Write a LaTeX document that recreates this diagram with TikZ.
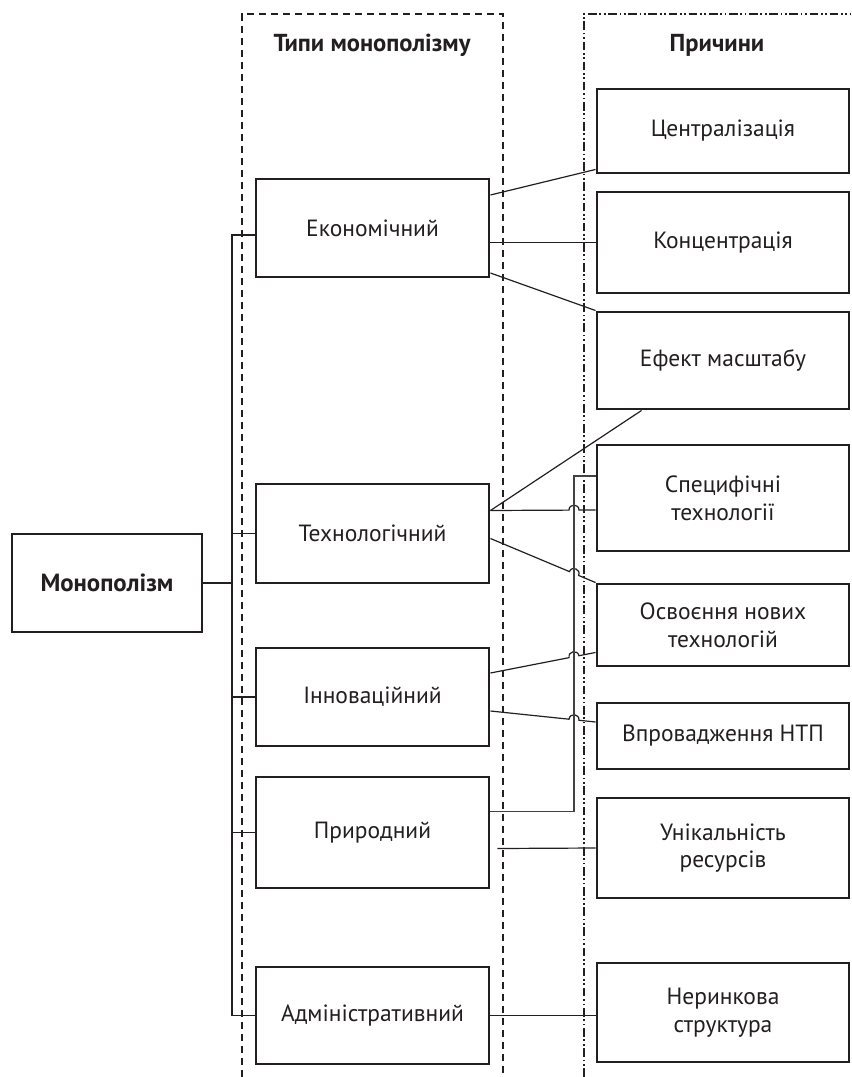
\documentclass[tikz,border=0pt]{standalone}
\usepackage{fontspec}
\setmainfont{PT Sans}
\usetikzlibrary{calc}
\definecolor{ink}{HTML}{231F20}
\tikzset{
  box/.style={draw=ink,line width=2.2pt,text=ink,align=center,inner sep=0pt,font=\fontsize{17.6}{20.8}\selectfont},
  lbox/.style={box,minimum width=174.75pt},
  rbox/.style={box,minimum width=189pt},
  conn/.style={draw=ink,line width=0.9pt},
  head/.style={text=ink,font=\fontsize{18.4}{21}\selectfont\bfseries},
  frameA/.style={draw=ink,line width=1.7pt,dash pattern=on 5.5pt off 3.5pt},
  frameB/.style={draw=ink,line width=1.7pt,dash pattern=on 6.5pt off 2pt on 1.3pt off 2pt on 1.3pt off 2pt},
}
\newcommand\hopline[2]{%
  \coordinate (hX) at (intersection cs: first line={(#1)--(#2)}, second line={(574,0)--(574,1077)});
  \draw[conn] (#1) -- ($(hX)!3.75pt!(#1)$) to[bend left=90,looseness=1.7] ($(hX)!3.75pt!(#2)$) -- (#2);
}
\begin{document}
\begin{tikzpicture}[x=0.75pt,y=-0.75pt]
\useasboundingbox[fill=white] (0,0) rectangle (851,1077);

% frames
\draw[frameA] (242,1077) -- (242,14) -- (503,14) -- (503,1077);
\draw[frameB] (584,1077) -- (584,14) -- (851,14);
\node[head] (h1) at (372,45) {Типи монополізму};
\node[head] (h2) at (717,45) {Причини};

% main box
\node[box,minimum width=142.5pt,minimum height=73.5pt,font=\fontsize{18.6}{21}\selectfont\bfseries] (mono) at (107,583) {Монополізм};

% types
\node[lbox,minimum height=73.5pt]  (econ)  at (372.5,228)    {Економічний};
\node[lbox,minimum height=74.25pt] (tech)  at (372.5,533.5)  {Технологічний};
\node[lbox,minimum height=73.5pt]  (innov) at (372.5,697)    {Інноваційний};
\node[lbox,minimum height=83.25pt] (natur) at (372.5,832.5)  {Природний};
\node[lbox,minimum height=72.75pt] (admin) at (372.5,1015.5) {Адміністративний};

% causes
\node[rbox,minimum height=63pt]    (centr) at (723,131)    {Централізація};
\node[rbox,minimum height=75.75pt] (conc)  at (723,242.5)  {Концентрація};
\node[rbox,minimum height=72.75pt] (eff)   at (723,360.5)  {Ефект масштабу};
\node[rbox,minimum height=79.5pt]  (spec)  at (723,498)    {Специфічні\\технології};
\node[rbox,minimum height=61.5pt]  (osv)   at (723,625)    {Освоєння нових\\технологій};
\node[rbox,minimum height=49.5pt]  (vpr)   at (723,736)    {Впровадження НТП};
\node[rbox,minimum height=75pt]    (unik)  at (723,848)    {Унікальність\\ресурсів};
\node[rbox,minimum height=74.25pt] (neryn) at (723,1012.5) {Неринкова\\структура};

% trunk
\coordinate (tk) at (232,0);
\coordinate (ew) at ($(econ.west)+(0,7)$);
\draw[conn] (ew) -| (tk |- admin.west) -- (admin.west);
\draw[conn] (mono.east) -- (tk |- mono.east);
\draw[conn] (tech.west) -- (tk |- tech.west);
\draw[conn] (innov.west) -- (tk |- innov.west);
\draw[conn] (natur.west) -- (tk |- natur.west);

% economic
\draw[conn] ($(econ.east)+(0,-33)$) -- ($(centr.south west)+(0,-5)$);
\draw[conn] (econ.east |- conc.west) -- (conc.west);
\draw[conn] ($(econ.east)+(0,45)$) -- (eff.north west);

% technological
\draw[conn] ($(tech.east)+(0,-23)$) -- ($(eff.south west)+(46,0)$);
\coordinate (t1) at ($(tech.east)+(0,-23)$);
\coordinate (s1) at ($(spec.west)+(0,12)$);
\hopline{t1}{s1}
\coordinate (t2) at ($(tech.east)+(0,5)$);
\hopline{t2}{osv.north west}

% innovation
\coordinate (i1) at ($(innov.east)+(0,-24)$);
\coordinate (o1) at ($(osv.south west)+(0,-15)$);
\hopline{i1}{o1}
\coordinate (i2) at ($(innov.east)+(0,14)$);
\coordinate (v1) at ($(vpr.west)+(0,-14)$);
\hopline{i2}{v1}

% natural
\coordinate (vx) at (574,0);
\coordinate (n1) at ($(natur.east)+(0,-21)$);
\coordinate (s2) at ($(spec.west)+(0,-22)$);
\draw[conn,draw=ink!85] (n1) -- (n1 -| vx) -- (vx |- s2) -- (s2);
\draw[conn] ($(natur.east)+(7,16)$) -- (unik.west);

% administrative
\draw[conn] (admin.east) -- (admin.east -| neryn.west);
\end{tikzpicture}
\end{document}
